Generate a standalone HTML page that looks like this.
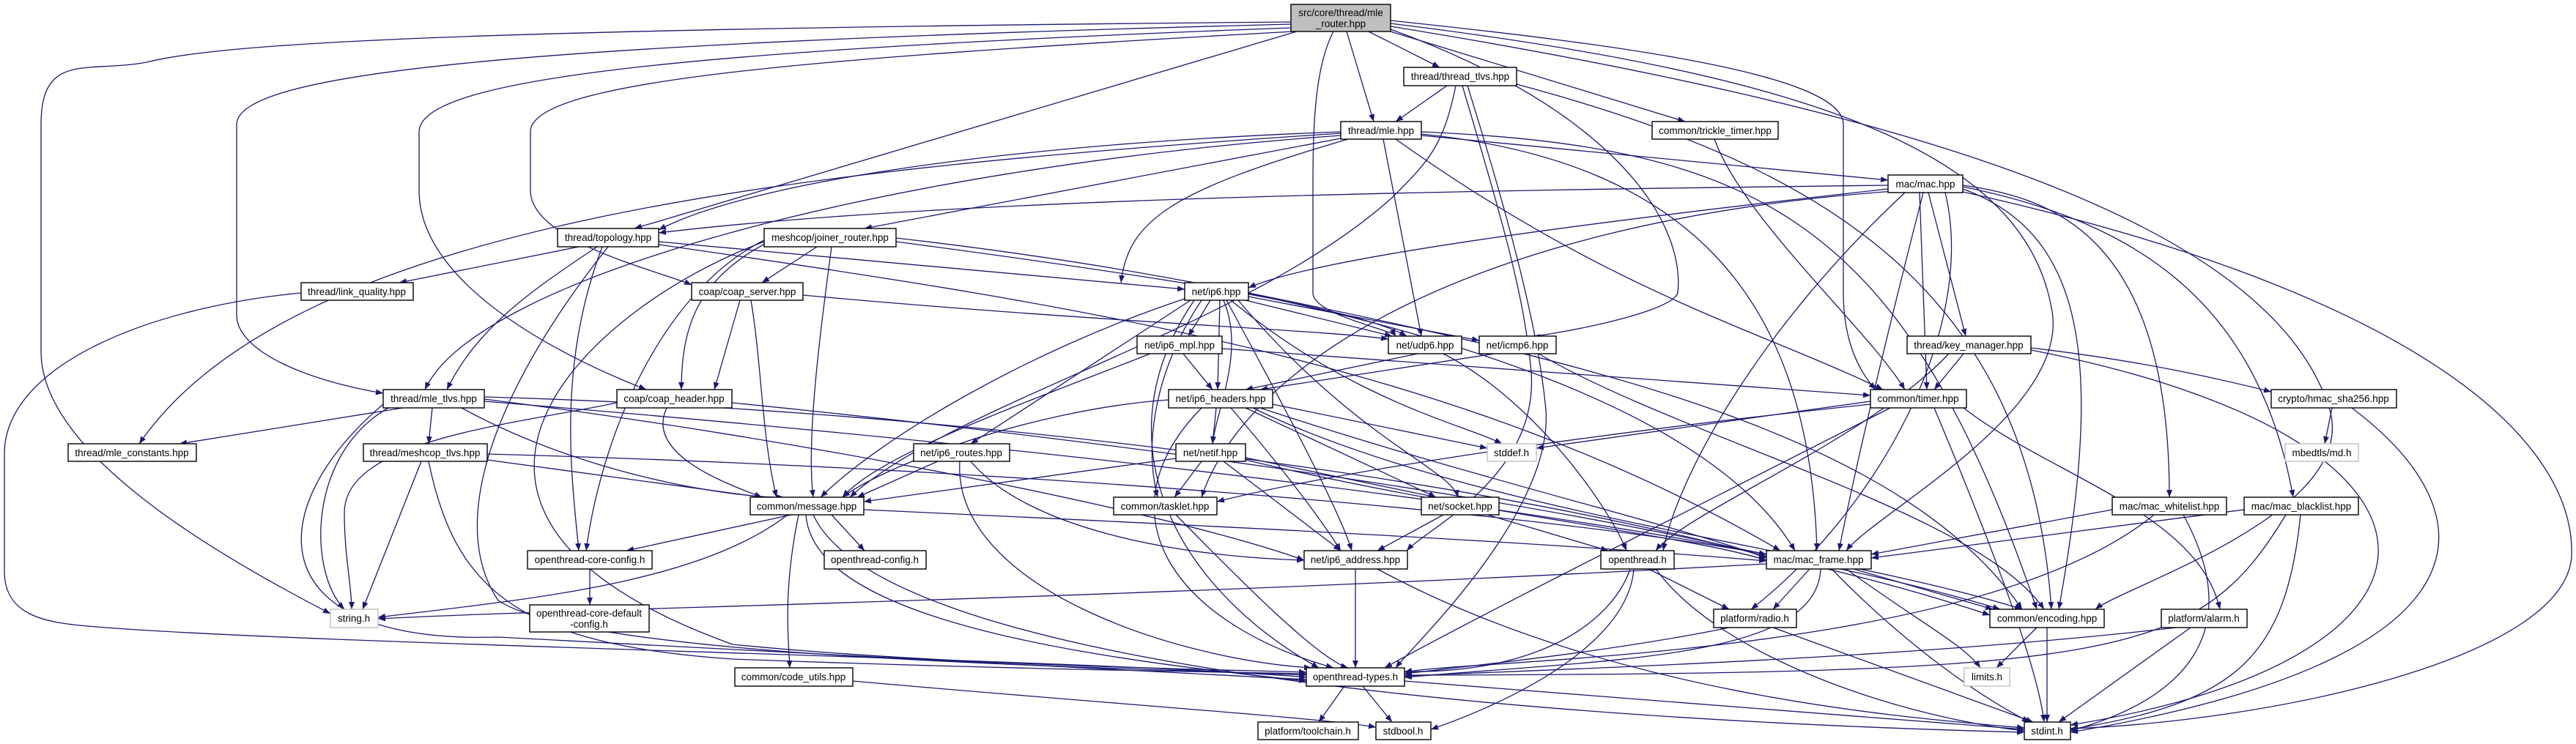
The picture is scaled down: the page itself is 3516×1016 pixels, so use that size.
<!DOCTYPE html>
<html><head><meta charset="utf-8"><style>
html,body{margin:0;padding:0;background:#fff}
svg{display:block}
text{font-family:"Liberation Sans",Arial,sans-serif;font-size:13.5px;fill:#000}
.e{fill:none;stroke:#191970;stroke-width:1.3}
.n{fill:#fff;stroke:#000;stroke-width:1.4}
.g{fill:#fff;stroke:#bfbfbf;stroke-width:1.4}
</style></head><body>
<svg width="3516" height="1016" viewBox="0 0 3516 1016" xmlns="http://www.w3.org/2000/svg">
<defs><marker id="a" viewBox="0 0 10 8" refX="10" refY="4" markerWidth="10" markerHeight="8" markerUnits="userSpaceOnUse" orient="auto"><path d="M0,0 L10,4 L0,8 z" fill="#191970"/></marker></defs>
<g marker-end="url(#a)">
<!-- mle_router -->
<path class="e" d="M1762,30 C600,40 300,60 200,85 C120,100 56,70 56,170 L56,480 C56,620 300,760 451,838"/>
<path class="e" d="M1762,33 C700,60 323,100 323,170 L323,430 C323,480 420,520 523,537"/>
<path class="e" d="M1762,38 C900,70 572,110 572,180 L572,260 C572,400 800,500 882,532"/>
<path class="e" d="M1765,43 C1100,80 724,110 724,180 L724,260 C724,330 900,370 944,389"/>
<path class="e" d="M1770,43 L866,312"/>
<path class="e" d="M1820,43 C1790,100 1792,200 1792,300 L1792,400 C1792,430 1900,450 1905,459"/>
<path class="e" d="M1838,43 L1875,166"/>
<path class="e" d="M1868,43 L1965,92"/>
<path class="e" d="M1898,43 L2300,166"/>
<path class="e" d="M1898,28 C2200,60 2516,100 2516,170 L2516,400 C2516,470 2540,510 2560,532"/>
<path class="e" d="M1898,32 C2450,100 2760,200 2800,420 C2830,560 2560,700 2520,752"/>
<path class="e" d="M1898,36 C2600,150 3100,300 3180,560 C3220,700 2900,800 2860,832"/>
<path class="e" d="M1898,40 C2200,150 2300,300 2290,400 C2280,430 2100,460 2092,459"/>
<!-- thread_tlvs -->
<path class="e" d="M1975,117 L1905,166"/>
<path class="e" d="M1987,117 C1970,200 1950,220 1900,270 C1700,450 1300,550 1160,679"/>
<path class="e" d="M1996,117 C2050,300 2080,400 2090,508 C2100,650 1950,720 1920,752"/>
<path class="e" d="M2003,117 C2060,300 2100,450 2110,560 C2120,700 1930,880 1905,912"/>
<path class="e" d="M2070,115 C2500,230 2770,400 2800,832"/>
<!-- mle -->
<path class="e" d="M1830,180 C1300,200 1000,260 899,314"/>
<path class="e" d="M1835,188 L1180,312"/>
<path class="e" d="M1830,185 C1200,230 650,380 580,532"/>
<path class="e" d="M1830,182 C1100,230 400,300 190,606"/>
<path class="e" d="M1888,190 L1940,459"/>
<path class="e" d="M1940,185 L2577,246"/>
<path class="e" d="M1905,190 C2200,400 2400,450 2570,532"/>
<path class="e" d="M1940,180 C2400,200 2600,300 2780,832"/>
<path class="e" d="M1940,183 C2300,220 2470,400 2480,752"/>
<path class="e" d="M1840,190 C1600,260 1540,300 1530,386"/>
<!-- trickle -->
<path class="e" d="M2340,190 C2380,300 2550,450 2600,532"/>
<!-- mac -->
<path class="e" d="M2577,253 C2000,260 1300,270 899,318"/>
<path class="e" d="M2577,258 C2200,300 1800,350 1704,393"/>
<path class="e" d="M2620,263 L2630,532"/>
<path class="e" d="M2632,263 L2683,459"/>
<path class="e" d="M2679,253 C2800,270 2961,320 2961,679"/>
<path class="e" d="M2679,255 C2900,300 3080,400 3130,679"/>
<path class="e" d="M2625,263 C2590,400 2540,600 2510,752"/>
<path class="e" d="M2679,258 C2850,320 2870,500 2810,832"/>
<path class="e" d="M2655,263 C2700,450 2560,700 2390,832"/>
<path class="e" d="M2600,263 C2400,450 2290,650 2270,752"/>
<path class="e" d="M2600,260 C2000,300 1700,500 1640,679"/>
<path class="e" d="M2679,262 C3300,400 3516,600 3510,760 C3500,900 3100,985 2826,995"/>
<!-- topology -->
<path class="e" d="M790,337 L545,386"/>
<path class="e" d="M815,337 C720,400 650,450 610,532"/>
<path class="e" d="M822,337 C760,500 780,650 790,752"/>
<path class="e" d="M899,330 L1617,395"/>
<path class="e" d="M899,334 C1500,420 2000,500 2430,752"/>
<path class="e" d="M830,337 C700,500 600,700 680,820 C800,900 1500,910 1783,922"/>
<!-- joiner_router -->
<path class="e" d="M1115,337 L1040,386"/>
<path class="e" d="M1050,330 C950,380 930,450 930,532"/>
<path class="e" d="M1135,337 C1120,450 1100,600 1110,679"/>
<path class="e" d="M1223,330 C1600,380 1850,420 1920,459"/>
<path class="e" d="M1043,330 C800,420 500,700 1000,880 C1300,910 1700,915 1783,918"/>
<path class="e" d="M1223,325 C1700,380 2300,500 2450,752"/>
<path class="e" d="M1043,328 C900,400 820,600 800,752"/>
<!-- link_quality -->
<path class="e" d="M411,400 C200,420 6,500 6,620 L6,780 C6,840 60,850 120,855 C400,880 1500,900 1783,925"/>
<!-- coap_server -->
<path class="e" d="M1010,410 L975,532"/>
<path class="e" d="M1025,410 C1040,500 1040,600 1060,679"/>
<path class="e" d="M1096,403 C1500,440 1800,450 1895,463"/>
<!-- ip6 -->
<path class="e" d="M1652,410 L1622,459"/>
<path class="e" d="M1700,410 L1900,459"/>
<path class="e" d="M1704,405 L2019,465"/>
<path class="e" d="M1665,410 L1662,532"/>
<path class="e" d="M1625,410 L1325,606"/>
<path class="e" d="M1670,410 C1700,480 1660,560 1655,606"/>
<path class="e" d="M1617,408 C1400,480 1200,600 1120,679"/>
<path class="e" d="M1680,410 C1850,550 2000,580 2050,606"/>
<path class="e" d="M1690,410 C1850,600 1980,640 1990,679"/>
<path class="e" d="M1674,410 C1750,550 1830,700 1845,752"/>
<path class="e" d="M1640,410 C1580,500 1560,600 1580,679"/>
<path class="e" d="M1704,400 C2200,500 2600,600 2760,832"/>
<path class="e" d="M1630,410 C1500,600 1600,800 1800,912"/>
<!-- ip6_mpl -->
<path class="e" d="M1615,483 L1655,532"/>
<path class="e" d="M1570,483 C1400,550 1200,620 1150,679"/>
<path class="e" d="M1668,476 C2000,500 2300,520 2553,540"/>
<!-- udp6 -->
<path class="e" d="M1935,483 L1700,532"/>
<path class="e" d="M1970,483 C2100,550 2200,700 2220,752"/>
<!-- icmp6 -->
<path class="e" d="M2040,483 L1720,532"/>
<path class="e" d="M2100,483 C2300,600 2700,700 2790,832"/>
<!-- key_manager -->
<path class="e" d="M2680,483 L2640,532"/>
<path class="e" d="M2772,475 C2900,490 3000,510 3100,535"/>
<path class="e" d="M2772,478 C3400,600 3390,900 2826,990"/>
<path class="e" d="M2660,483 C2550,600 2300,700 2260,752"/>
<!-- hmac -->
<path class="e" d="M3183,557 L3173,606"/>
<path class="e" d="M3210,557 C3400,700 3420,900 2826,1000"/>
<!-- mle_tlvs -->
<path class="e" d="M550,557 L245,606"/>
<path class="e" d="M590,557 L585,606"/>
<path class="e" d="M530,557 C420,620 420,780 470,832"/>
<path class="e" d="M630,557 C800,650 1000,680 1070,679"/>
<path class="e" d="M523,552 C350,700 360,880 680,870 C1200,900 1600,920 1783,928"/>
<path class="e" d="M661,548 C1300,600 2300,700 2730,832"/>
<path class="e" d="M661,545 C1100,600 1600,700 1780,765"/>
<path class="e" d="M661,542 C1300,560 2000,650 2411,760"/>
<!-- coap_header -->
<path class="e" d="M910,557 C880,620 990,660 1040,679"/>
<path class="e" d="M842,550 C700,580 470,600 470,700 C470,760 480,800 480,832"/>
<path class="e" d="M999,550 C1500,600 2300,700 2716,840"/>
<!-- ip6_headers -->
<path class="e" d="M1660,557 L1655,606"/>
<path class="e" d="M1595,546 C1400,560 1200,640 1150,679"/>
<path class="e" d="M1640,557 C1500,700 1600,850 1820,912"/>
<path class="e" d="M1737,552 L2030,612"/>
<path class="e" d="M1700,557 L1960,679"/>
<path class="e" d="M1680,557 C1760,650 1810,720 1830,752"/>
<path class="e" d="M1710,557 C2000,700 2500,750 2760,832"/>
<path class="e" d="M1720,557 C2000,650 2300,720 2411,762"/>
<!-- timer -->
<path class="e" d="M2553,552 C2100,600 1800,650 1661,685"/>
<path class="e" d="M2553,548 L2097,612"/>
<path class="e" d="M2580,557 C2300,700 2000,850 1890,912"/>
<path class="e" d="M2640,557 C2700,700 2780,900 2790,986"/>
<path class="e" d="M2680,557 C2800,650 3000,700 3030,832"/>
<!-- meshcop_tlvs -->
<path class="e" d="M665,628 L1040,679"/>
<path class="e" d="M575,630 L495,832"/>
<path class="e" d="M585,630 C620,800 700,880 1000,900 C1400,915 1700,918 1783,920"/>
<path class="e" d="M665,620 C1400,640 2100,700 2411,757"/>
<!-- ip6_routes -->
<path class="e" d="M1280,630 L1170,679"/>
<path class="e" d="M1310,630 C1300,800 1600,900 1790,912"/>
<path class="e" d="M1325,630 C1400,720 1600,760 1780,765"/>
<!-- netif -->
<path class="e" d="M1605,626 L1179,685"/>
<path class="e" d="M1640,630 L1603,679"/>
<path class="e" d="M1700,625 L1960,679"/>
<path class="e" d="M1670,630 L1830,752"/>
<path class="e" d="M1700,628 C2000,700 2300,730 2411,765"/>
<!-- message -->
<path class="e" d="M1080,703 L855,752"/>
<path class="e" d="M1135,703 L1180,752"/>
<path class="e" d="M1075,703 C950,800 700,820 516,843"/>
<path class="e" d="M1090,703 C1070,800 1075,860 1078,912"/>
<path class="e" d="M1100,703 C1110,850 1500,900 1783,930"/>
<path class="e" d="M1179,696 C1700,720 2100,740 2411,766"/>
<path class="e" d="M1110,703 C1200,900 2000,980 2763,1000"/>
<!-- tasklet -->
<path class="e" d="M1605,703 C1700,800 1800,900 1840,912"/>
<!-- socket -->
<path class="e" d="M1970,703 L1880,752"/>
<path class="e" d="M2030,703 L2195,752"/>
<!-- whitelist / blacklist -->
<path class="e" d="M2883,696 L2554,757"/>
<path class="e" d="M2940,703 C2700,900 2000,900 1917,918"/>
<path class="e" d="M2980,703 C3060,850 3000,950 2826,998"/>
<path class="e" d="M3063,696 L2554,762"/>
<path class="e" d="M3120,703 C3000,900 2900,920 1917,922"/>
<path class="e" d="M3140,703 C3120,900 3050,960 2826,996"/>
<!-- core_config -->
<path class="e" d="M805,777 L805,826"/>
<!-- ip6_address -->
<path class="e" d="M1850,777 L1850,912"/>
<path class="e" d="M1880,777 C2200,950 2600,980 2763,994"/>
<!-- openthread.h -->
<path class="e" d="M2225,777 C2200,850 2100,920 1917,917"/>
<path class="e" d="M2250,777 L2360,832"/>
<path class="e" d="M2230,777 C2220,900 2000,980 1953,996"/>
<path class="e" d="M2260,777 C2350,900 2600,980 2763,998"/>
<!-- mac_frame -->
<path class="e" d="M2411,770 C1500,820 800,830 516,845"/>
<path class="e" d="M2470,777 L2420,832"/>
<path class="e" d="M2530,777 L2720,832"/>
<path class="e" d="M2520,777 C2620,850 2680,880 2703,912"/>
<path class="e" d="M2500,777 C2600,880 2700,950 2770,986"/>
<path class="e" d="M2485,777 C2480,900 2200,900 1917,925"/>
<!-- radio / encoding / alarm -->
<path class="e" d="M2360,857 C2200,890 2000,910 1917,920"/>
<path class="e" d="M2420,857 L2775,986"/>
<path class="e" d="M2780,857 L2725,912"/>
<path class="e" d="M2794,857 L2794,986"/>
<path class="e" d="M2970,857 C2600,900 2100,915 1917,923"/>
<path class="e" d="M2990,857 L2810,986"/>
<!-- code_utils / types -->
<path class="e" d="M1164,930 C1500,960 1800,980 1878,993"/>
<path class="e" d="M1835,937 L1800,986"/>
<path class="e" d="M1860,937 L1900,986"/>
<path class="e" d="M1917,930 C2300,960 2600,985 2763,996"/>
</g>
<!-- nodes -->
<rect x="1762" y="6" width="136" height="37" fill="#bfbfbf" stroke="#000" stroke-width="1.4"/>
<text x="1830" y="22" text-anchor="middle">src/core/thread/mle</text>
<text x="1830" y="37" text-anchor="middle">_router.hpp</text>
<g>
<rect class="n" x="1916" y="92" width="154" height="25"/><text x="1993" y="109" text-anchor="middle">thread/thread_tlvs.hpp</text>
<rect class="n" x="1830" y="166" width="110" height="24"/><text x="1885" y="183" text-anchor="middle">thread/mle.hpp</text>
<rect class="n" x="2255" y="166" width="172" height="24"/><text x="2341" y="183" text-anchor="middle">common/trickle_timer.hpp</text>
<rect class="n" x="2577" y="239" width="102" height="24"/><text x="2628" y="256" text-anchor="middle">mac/mac.hpp</text>
<rect class="n" x="761" y="312" width="138" height="25"/><text x="830" y="329" text-anchor="middle">thread/topology.hpp</text>
<rect class="n" x="1043" y="312" width="180" height="25"/><text x="1133" y="329" text-anchor="middle">meshcop/joiner_router.hpp</text>
<rect class="n" x="411" y="386" width="153" height="24"/><text x="487" y="403" text-anchor="middle">thread/link_quality.hpp</text>
<rect class="n" x="944" y="386" width="152" height="24"/><text x="1020" y="403" text-anchor="middle">coap/coap_server.hpp</text>
<rect class="n" x="1617" y="386" width="87" height="24"/><text x="1660" y="403" text-anchor="middle">net/ip6.hpp</text>
<rect class="n" x="1552" y="459" width="116" height="24"/><text x="1610" y="476" text-anchor="middle">net/ip6_mpl.hpp</text>
<rect class="n" x="1895" y="459" width="100" height="24"/><text x="1945" y="476" text-anchor="middle">net/udp6.hpp</text>
<rect class="n" x="2019" y="459" width="105" height="24"/><text x="2071" y="476" text-anchor="middle">net/icmp6.hpp</text>
<rect class="n" x="2603" y="459" width="169" height="24"/><text x="2687" y="476" text-anchor="middle">thread/key_manager.hpp</text>
<rect class="n" x="523" y="532" width="138" height="25"/><text x="592" y="549" text-anchor="middle">thread/mle_tlvs.hpp</text>
<rect class="n" x="842" y="532" width="157" height="25"/><text x="920" y="549" text-anchor="middle">coap/coap_header.hpp</text>
<rect class="n" x="1595" y="532" width="142" height="25"/><text x="1666" y="549" text-anchor="middle">net/ip6_headers.hpp</text>
<rect class="n" x="2553" y="532" width="131" height="25"/><text x="2618" y="549" text-anchor="middle">common/timer.hpp</text>
<rect class="n" x="3100" y="532" width="171" height="25"/><text x="3185" y="549" text-anchor="middle">crypto/hmac_sha256.hpp</text>
<rect class="n" x="93" y="606" width="175" height="24"/><text x="180" y="623" text-anchor="middle">thread/mle_constants.hpp</text>
<rect class="n" x="496" y="606" width="169" height="24"/><text x="580" y="623" text-anchor="middle">thread/meshcop_tlvs.hpp</text>
<rect class="n" x="1247" y="606" width="131" height="24"/><text x="1312" y="623" text-anchor="middle">net/ip6_routes.hpp</text>
<rect class="n" x="1605" y="606" width="95" height="24"/><text x="1652" y="623" text-anchor="middle">net/netif.hpp</text>
<rect class="g" x="2030" y="606" width="67" height="24"/><text x="2063" y="623" text-anchor="middle">stddef.h</text>
<rect class="g" x="3119" y="606" width="100" height="24"/><text x="3169" y="623" text-anchor="middle">mbedtls/md.h</text>
<rect class="n" x="1024" y="679" width="155" height="24"/><text x="1101" y="696" text-anchor="middle">common/message.hpp</text>
<rect class="n" x="1520" y="679" width="141" height="24"/><text x="1590" y="696" text-anchor="middle">common/tasklet.hpp</text>
<rect class="n" x="1940" y="679" width="106" height="24"/><text x="1993" y="696" text-anchor="middle">net/socket.hpp</text>
<rect class="n" x="2883" y="679" width="156" height="24"/><text x="2961" y="696" text-anchor="middle">mac/mac_whitelist.hpp</text>
<rect class="n" x="3063" y="679" width="156" height="24"/><text x="3141" y="696" text-anchor="middle">mac/mac_blacklist.hpp</text>
<rect class="n" x="720" y="752" width="170" height="25"/><text x="805" y="769" text-anchor="middle">openthread-core-config.h</text>
<rect class="n" x="1125" y="752" width="139" height="25"/><text x="1194" y="769" text-anchor="middle">openthread-config.h</text>
<rect class="n" x="1780" y="752" width="141" height="25"/><text x="1850" y="769" text-anchor="middle">net/ip6_address.hpp</text>
<rect class="n" x="2185" y="752" width="100" height="25"/><text x="2235" y="769" text-anchor="middle">openthread.h</text>
<rect class="n" x="2411" y="752" width="143" height="25"/><text x="2482" y="769" text-anchor="middle">mac/mac_frame.hpp</text>
<rect class="g" x="451" y="832" width="65" height="25"/><text x="483" y="849" text-anchor="middle">string.h</text>
<rect class="n" x="723" y="826" width="163" height="37"/><text x="804" y="842" text-anchor="middle">openthread-core-default</text><text x="804" y="857" text-anchor="middle">-config.h</text>
<rect class="n" x="2339" y="832" width="113" height="25"/><text x="2395" y="849" text-anchor="middle">platform/radio.h</text>
<rect class="n" x="2716" y="832" width="156" height="25"/><text x="2794" y="849" text-anchor="middle">common/encoding.hpp</text>
<rect class="n" x="2950" y="832" width="117" height="25"/><text x="3008" y="849" text-anchor="middle">platform/alarm.h</text>
<rect class="n" x="1003" y="912" width="161" height="25"/><text x="1083" y="929" text-anchor="middle">common/code_utils.hpp</text>
<rect class="n" x="1783" y="912" width="134" height="25"/><text x="1850" y="929" text-anchor="middle">openthread-types.h</text>
<rect class="g" x="2681" y="912" width="62" height="25"/><text x="2712" y="929" text-anchor="middle">limits.h</text>
<rect class="n" x="1717" y="986" width="137" height="24"/><text x="1785" y="1003" text-anchor="middle">platform/toolchain.h</text>
<rect class="n" x="1878" y="986" width="75" height="24"/><text x="1915" y="1003" text-anchor="middle">stdbool.h</text>
<rect class="n" x="2763" y="986" width="63" height="24"/><text x="2794" y="1003" text-anchor="middle">stdint.h</text>
</g>
</svg>
</body></html>
